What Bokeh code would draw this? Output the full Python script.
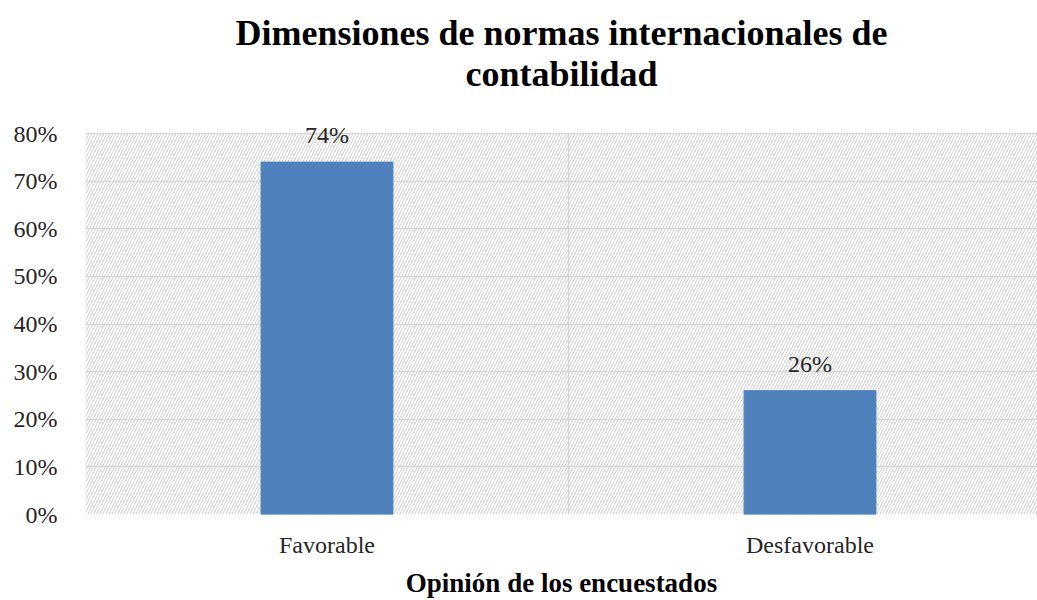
from bokeh.plotting import figure
from bokeh.models import (ColumnDataSource, FixedTicker, BoxAnnotation, Title,
                          LabelSet, NumeralTickFormatter)
from bokeh.embed import file_html
from bokeh.resources import INLINE

categories = ["Favorable", "Desfavorable"]
values = [0.74, 0.26]
value_labels = ["74%", "26%"]
y_ticks = [0.0, 0.1, 0.2, 0.3, 0.4, 0.5, 0.6, 0.7, 0.8]

title_line1 = "Dimensiones de normas internacionales de"
title_line2 = "contabilidad"
x_title = "Opinión de los encuestados"

SERIF = "Liberation Serif"

xpos = [i + 0.5 for i in range(len(categories))]
src = ColumnDataSource(dict(x=xpos, top=values, lab=value_labels))
y_max = y_ticks[-1]

# the plot area of the original runs past the right edge of the picture;
# a little headroom above 80% keeps the top data label from being clipped
p = figure(width=1037, height=600, output_backend="svg", toolbar_location=None,
           x_range=(0, 1.971), y_range=(0, y_max + 0.04),
           min_border_left=85, min_border_right=0, min_border_top=114,
           min_border_bottom=0)
p.outline_line_color = None
p.background_fill_color = "white"
p.border_fill_color = "white"

# hatched plot area (up to the 80% line)
p.add_layout(BoxAnnotation(top=y_max, fill_color=None, line_color=None,
                           hatch_pattern="right_diagonal_line", hatch_color="#cfcfcf",
                           hatch_weight=1, hatch_scale=6, level="underlay"))

p.vbar(x="x", top="top", width=0.273, source=src, fill_color="#4F81BD",
       line_color="#4F81BD")

p.add_layout(LabelSet(x="x", y="top", text="lab", source=src, text_align="center",
                      text_baseline="bottom", y_offset=14, text_font=SERIF,
                      text_font_size="24px", text_color="#262626"))

# axes
p.yaxis.ticker = FixedTicker(ticks=y_ticks)
p.yaxis.formatter = NumeralTickFormatter(format="0%")
p.yaxis.axis_line_color = None
p.yaxis.major_tick_line_color = None
p.yaxis.minor_tick_line_color = None
p.yaxis.major_label_text_font = SERIF
p.yaxis.major_label_text_font_size = "24px"
p.yaxis.major_label_text_color = "#262626"
p.yaxis.major_label_standoff = 22

p.xaxis.ticker = FixedTicker(ticks=xpos)
p.xaxis.major_label_overrides = {x: c for x, c in zip(xpos, categories)}
p.xaxis.axis_line_color = None
p.xaxis.major_tick_line_color = None
p.xaxis.minor_tick_line_color = None
p.xaxis.major_label_text_font = SERIF
p.xaxis.major_label_text_font_size = "24px"
p.xaxis.major_label_text_color = "#262626"
p.xaxis.major_label_standoff = 11
p.xaxis.axis_label = x_title
p.xaxis.axis_label_text_font = SERIF
p.xaxis.axis_label_text_font_size = "27px"
p.xaxis.axis_label_text_font_style = "bold"
p.xaxis.axis_label_text_color = "black"
p.xaxis.axis_label_standoff = 7

# grids
p.ygrid.ticker = FixedTicker(ticks=y_ticks)
p.ygrid.grid_line_color = "#d9d9d9"
p.ygrid.grid_line_width = 1.5
p.xgrid.ticker = FixedTicker(ticks=list(range(len(categories) + 1)))
p.xgrid.grid_line_color = "#d9d9d9"
p.xgrid.grid_line_width = 1.5
p.xgrid.cross_bounds = (0, y_max)

# title (two lines)
p.title.text = title_line1
p.title.align = "center"
p.title.text_font = SERIF
p.title.text_font_size = "36px"
p.title.text_font_style = "bold"
p.title.text_color = "black"
p.title.standoff = -45
p.add_layout(Title(text=title_line2, align="center", text_font=SERIF,
                   text_font_size="36px", text_font_style="bold",
                   text_color="black", standoff=42), "above")

open("out.html", "w").write(file_html(p, INLINE))
